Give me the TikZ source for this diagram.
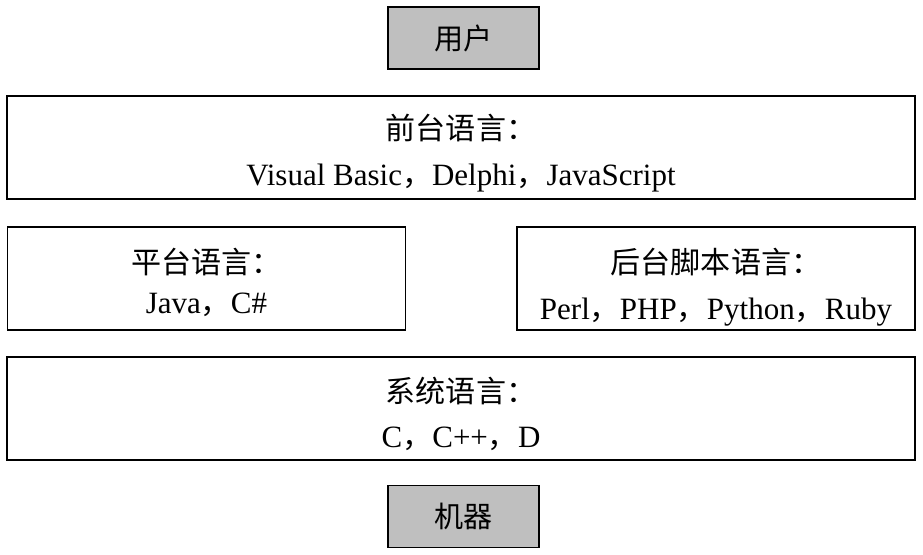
\documentclass[tikz,border=0pt]{standalone}
\usepackage{fontspec}
\setmainfont{Liberation Serif}
\newfontfamily\cjk{Noto Sans CJK SC}[Scale=0.97]
\newcommand{\lift}[1]{\rule{0pt}{#1}}

\tikzstyle{layer} = [rectangle, draw, line width=1.4pt, align=center, inner sep=0pt, minimum height=103pt, font=\fontsize{31pt}{46pt}\selectfont]
\tikzstyle{wide} = [layer, minimum width=908pt]
\tikzstyle{half} = [layer, minimum width=398pt]
\tikzstyle{ends} = [layer, fill=black!25, minimum width=151pt, minimum height=62pt, font=\fontsize{30pt}{34pt}\selectfont\cjk]

\begin{document}
\begin{tikzpicture}[x=1pt, y=-1pt]
        \useasboundingbox (0,0) rectangle (923,554);
        % top and bottom
        \node[ends] (user) at (463.5,38) {用户};
        \node[ends] (machine) at (463.5,516.5) {机器};
        % language layers
        \node[wide] (front) at (461,147.5) {\lift{37pt}{\cjk 前台语言：}\\Visual Basic{\cjk ，}Delphi{\cjk ，}JavaScript};
        \node[half, font=\fontsize{31pt}{40pt}\selectfont] (platform) at (206.5,278.5) {\lift{33pt}{\cjk 平台语言：}\\Java{\cjk ，}C\#};
        \node[half] (backend) at (716,278.5) {\lift{43pt}{\cjk 后台脚本语言：}\\Perl{\cjk ，}PHP{\cjk ，}Python{\cjk ，}Ruby};
        \node[wide, font=\fontsize{31pt}{45pt}\selectfont] (system) at (461,408.5) {\lift{37pt}{\cjk 系统语言：}\\C{\cjk ，}C++{\cjk ，}D};
    \end{tikzpicture}
\end{document}
